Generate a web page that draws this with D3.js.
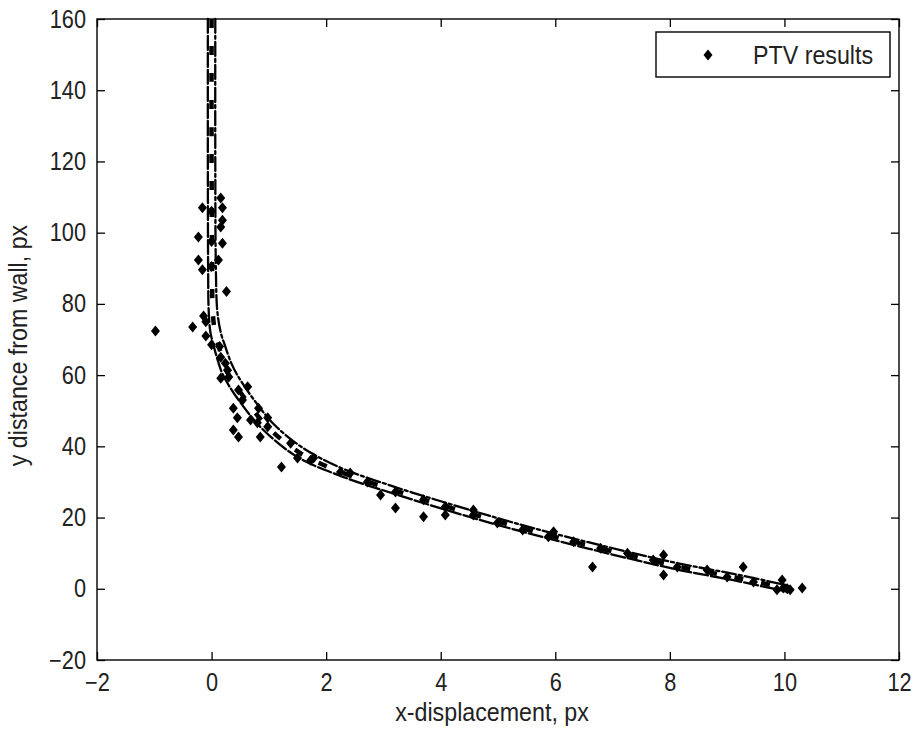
<!DOCTYPE html>
<html>
<head>
<meta charset="utf-8">
<script src="https://cdn.jsdelivr.net/npm/d3@7"></script>
<style>
  body { margin: 0; background: #fff; }
  svg text { font-family: "Liberation Sans", Arial, sans-serif; fill: #222; }
</style>
</head>
<body>
<svg id="chart" width="913" height="729"></svg>
<script>
// PTV measurements (x-displacement px, y distance px)
var ptvX = [0.16, 0.19, -0.16, 0.0, 0.19, 0.16, -0.23, 0.19, 0.0, -0.23, 0.12, -0.16, 0.0, 0.26,
    -0.14, -0.1, -0.98, -0.33, -0.1, 0.0, 0.14, 0.16, 0.24, 0.28, 0.16, 0.3,
    0.47, 0.63, 0.54, 0.38, 0.45, 0.38, 0.47, 0.68, 0.82, 0.8, 0.85, 0.98, 0.98, 1.22, 1.38, 1.5, 1.78, 1.73,
    2.25, 2.42, 2.72, 2.95, 3.21, 3.21, 3.7, 3.7, 4.08, 4.08, 4.57, 4.57, 4.99,
    5.43, 5.97, 5.88, 6.32, 6.65, 6.79, 7.26, 7.71, 7.89, 7.89, 8.13, 8.65, 9.0, 9.28, 9.46, 9.96, 9.98, 10.1, 9.87, 10.05, 10.31];
var ptvY = [109.7, 107, 107, 106, 103.5, 101.6, 98.8, 97, 97.5, 92.3, 92.3, 89.6, 90.5, 83.5,
    76.6, 75, 72.4, 73.5, 71, 68.5, 68, 65, 63.3, 61.4, 59.1, 59.5,
    55.8, 56.7, 53, 50.7, 48, 44.6, 42.6, 47.4, 50.7, 46.6, 42.6, 48, 45.5, 34.2, 40.9, 36.7, 36.7, 36.1,
    32.8, 32.5, 30, 26.3, 22.7, 27.2, 20.2, 25, 23, 20.7, 22.1, 20.7, 18.5,
    16.5, 16, 14.6, 13.2, 6.1, 11.4, 10, 8.1, 9.5, 3.9, 6.1, 5.3, 3.3, 6.1, 1.9, 2.5, 0.2, -0.3, -0.3, 0, 0.2];

// profile curves
var fitX = [0, 0, 0.01, 0.02, 0.06, 0.12, 0.2, 0.28, 0.56, 0.98, 1.55, 2.25, 3.18, 4.12, 5, 5.86, 7.26, 8.19, 9.11, 9.93, 10.05];
var fitY = [160, 120, 90, 78, 72, 68.5, 64, 60.6, 53.9, 45.4, 38.1, 32.8, 27.7, 23, 18.9, 15.1, 9.5, 6.1, 3.3, 0.5, 0.1];
var upperX = [0.065, 0.065, 0.075, 0.1, 0.16, 0.24, 0.34, 0.45, 0.72, 1.1, 1.6, 2.25, 3.18, 4.12, 5, 5.86, 7.26, 8.19, 9.11, 9.93, 10.08];
var upperY = [160, 120, 90, 78, 72, 68, 63.5, 60, 53.5, 46, 39.5, 34, 28.7, 24, 19.8, 16, 10.4, 7, 4.2, 1.4, 0.9];
var lowerX = [-0.065, -0.065, -0.06, -0.05, -0.02, 0.04, 0.13, 0.2, 0.45, 0.88, 1.5, 2.25, 3.18, 4.12, 5, 5.86, 7.26, 8.19, 9.11, 9.93, 10.02];
var lowerY = [160, 120, 90, 78, 72, 68, 63, 60, 53.5, 45, 37, 31.7, 26.7, 22, 17.9, 14.2, 8.6, 5.2, 2.4, -0.4, -0.7];

var xTicks = [-2, 0, 2, 4, 6, 8, 10, 12];
var yTicks = [-20, 0, 20, 40, 60, 80, 100, 120, 140, 160];

var margin = { top: 19, right: 14, bottom: 69, left: 97 };
var width = 913 - margin.left - margin.right;
var height = 729 - margin.top - margin.bottom;
var squeeze = 0.87;      // digits in the original are narrower
var squeezeText = 0.93;  // titles and legend

var svg = d3.select("#chart");
var g = svg.append("g").attr("transform", `translate(${margin.left},${margin.top})`);

var x = d3.scaleLinear().domain([-2, 12]).range([0, width]);
var y = d3.scaleLinear().domain([-20, 160]).range([height, 0]);

function zip(xs, ys) { return xs.map((v, i) => [v, ys[i]]); }

var line = d3.line()
    .x(d => x(d[0]))
    .y(d => y(d[1]))
    .curve(d3.curveCatmullRom.alpha(0.5));

// clip to plot area
g.append("clipPath").attr("id", "plotClip")
    .append("rect").attr("y", -4).attr("width", width).attr("height", height + 4);
var plot = g.append("g").attr("clip-path", "url(#plotClip)");

plot.append("path")
    .datum(zip(lowerX, lowerY))
    .attr("d", line)
    .attr("fill", "none")
    .attr("stroke", "#000")
    .attr("stroke-width", 2.3)
    .attr("stroke-linecap", "round")
    .attr("stroke-dasharray", "14,3");

plot.append("path")
    .datum(zip(upperX, upperY))
    .attr("d", line)
    .attr("fill", "none")
    .attr("stroke", "#000")
    .attr("stroke-width", 2.3)
    .attr("stroke-linecap", "round")
    .attr("stroke-dasharray", "14,3,3,3");

plot.append("path")
    .datum(zip(fitX, fitY))
    .attr("d", line)
    .attr("fill", "none")
    .attr("stroke", "#000")
    .attr("stroke-width", 4.5)
    .attr("stroke-dasharray", "9,18");

var diamond = "M0,-5.5L4.5,0L0,5.5L-4.5,0Z";

g.append("g").selectAll("path.pt")
    .data(zip(ptvX, ptvY))
    .enter()
    .append("path")
    .attr("class", "pt")
    .attr("d", diamond)
    .attr("fill", "#000")
    .attr("transform", d => `translate(${x(d[0])},${y(d[1])})`);

// axes, ticks pointing inward on all four sides
function styleAxis(sel) {
    sel.select(".domain").remove();
    sel.selectAll(".tick line").attr("stroke", "#000").attr("stroke-width", 1.3);
    sel.selectAll(".tick text")
        .attr("font-size", 25)
        .attr("fill", "#222")
        .attr("x", function () { return (+d3.select(this).attr("x") || 0) / squeeze; })
        .attr("transform", `scale(${squeeze},1)`);
}

g.append("g")
    .attr("transform", `translate(0,${height})`)
    .call(d3.axisBottom(x).tickValues(xTicks).tickSizeInner(-8).tickSizeOuter(0).tickPadding(13))
    .call(styleAxis);
g.append("g")
    .call(d3.axisTop(x).tickValues(xTicks).tickSizeInner(-8).tickSizeOuter(0).tickFormat(""))
    .call(styleAxis);
g.append("g")
    .call(d3.axisLeft(y).tickValues(yTicks).tickSizeInner(-8).tickSizeOuter(0).tickPadding(11))
    .call(styleAxis);
g.append("g")
    .attr("transform", `translate(${width},0)`)
    .call(d3.axisRight(y).tickValues(yTicks).tickSizeInner(-8).tickSizeOuter(0).tickFormat(""))
    .call(styleAxis);

g.append("rect")
    .attr("width", width)
    .attr("height", height)
    .attr("fill", "none")
    .attr("stroke", "#000")
    .attr("stroke-width", 1.4);

// axis titles
svg.append("text")
    .attr("transform", `translate(${margin.left + width / 2 - 6},721) scale(${squeezeText},1)`)
    .attr("text-anchor", "middle")
    .attr("font-size", 25)
    .text("x-displacement, px");

svg.append("text")
    .attr("transform", `translate(27,${margin.top + height / 2 + 6}) rotate(-90) scale(${squeezeText},1)`)
    .attr("text-anchor", "middle")
    .attr("font-size", 25)
    .text("y distance from wall, px");

// legend
var legend = svg.append("g").attr("transform", "translate(656,32)");
legend.append("rect")
    .attr("width", 234)
    .attr("height", 45)
    .attr("fill", "#fff")
    .attr("stroke", "#000")
    .attr("stroke-width", 1.4);
legend.append("path")
    .attr("d", diamond)
    .attr("fill", "#000")
    .attr("transform", "translate(52,23)");
legend.append("text")
    .attr("transform", `translate(97,32) scale(${squeezeText},1)`)
    .attr("font-size", 25)
    .text("PTV results");
</script>
</body>
</html>
